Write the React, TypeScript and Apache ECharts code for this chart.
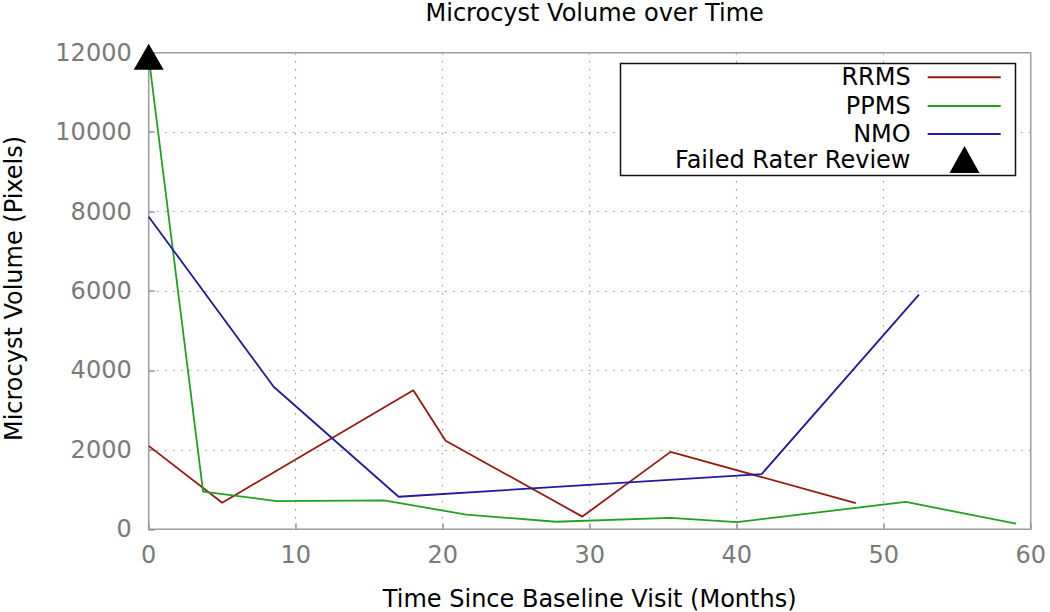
import React, { useEffect, useRef } from "react";
import * as echarts from "echarts";

const titleText = "Microcyst Volume over Time";
const xName = "Time Since Baseline Visit (Months)";
const yName = "Microcyst Volume (Pixels)";

const rrmsX = [0, 5.0, 18.0, 20.2, 29.5, 35.5, 48.1];
const rrmsY = [2100, 670, 3500, 2230, 320, 1950, 660];

const ppmsX = [0, 3.7, 8.7, 16.0, 21.6, 27.7, 35.5, 40.0, 51.5, 59.0];
const ppmsY = [11900, 950, 710, 730, 370, 190, 290, 180, 690, 140];

const nmoX = [0, 8.5, 17.0, 41.7, 52.4];
const nmoY = [7870, 3590, 820, 1390, 5910];

const failedX = [0];
const failedY = [11900];

const seriesNames = ["RRMS", "PPMS", "NMO", "Failed Rater Review"];
const colors = ["#931a12", "#23a023", "#22199c", "#000000"];

const zip = (xs: number[], ys: number[]) => xs.map((x, i) => [x, ys[i]]);

const FONT = "DejaVu Sans";

export default function App() {
  const ref = useRef<HTMLDivElement>(null);
  useEffect(() => {
    document.body.style.margin = "0";
    const chart = echarts.init(ref.current!, null, { renderer: "svg" });
    const gridLeft = 148.7;
    const gridRight = 19.3;
    const gridTop = 52.7;
    const gridBottom = 82.7;
    const legendTops = [65.3, 94, 122, 146];
    const lineIcon = "path://M0,0 L73,0 L73,2 L0,2 Z";
    const triIcon = "path://M15,0 L30,27 L0,27 Z";
    const legends = seriesNames.map((n, i) => {
      const isTri = i === 3;
      return {
        data: [{ name: n, icon: isTri ? triIcon : lineIcon }],
        right: isTri ? 1050 - 979.5 : 1050 - 1000.7,
        top: legendTops[i],
        padding: 0,
        align: "right",
        orient: "vertical",
        itemWidth: isTri ? 30 : 73,
        itemHeight: isTri ? 27 : 24,
        selectedMode: false,
        z: 6,
        textStyle: {
          fontFamily: FONT,
          fontSize: 24,
          color: "#000",
          padding: [0, isTri ? 34 : 12, 0, 0],
        },
      };
    });
    const lineSeries = (name: string, data: number[][], color: string) => ({
      name,
      type: "line",
      data,
      showSymbol: false,
      symbol: "none",
      lineStyle: { color, width: 1.8 },
      itemStyle: { color },
    });
    chart.setOption({
      animation: false,
      backgroundColor: "#fff",
      title: {
        text: titleText,
        left: (gridLeft + 1050 - gridRight) / 2,
        textAlign: "center",
        top: 0,
        textStyle: {
          fontFamily: FONT,
          fontSize: 24,
          lineHeight: 16,
          fontWeight: "normal",
          color: "#000",
        },
      },
      legend: legends,
      graphic: [
        {
          type: "rect",
          shape: { x: 620.5, y: 63.5, width: 395, height: 112 },
          style: { fill: "#fff", stroke: "#111", lineWidth: 1.5 },
          z: 5,
        },
      ],
      grid: {
        left: gridLeft,
        right: gridRight,
        top: gridTop,
        bottom: gridBottom,
        containLabel: false,
        outerBoundsMode: "none",
        show: true,
        borderColor: "#999",
        borderWidth: 1.5,
        backgroundColor: "transparent",
      },
      xAxis: {
        type: "value",
        min: 0,
        max: 60,
        interval: 10,
        name: xName,
        nameLocation: "middle",
        nameGap: 58,
        nameTextStyle: { fontFamily: FONT, fontSize: 24, color: "#000" },
        axisLine: { show: false },
        axisTick: { show: true, inside: true, length: 6, lineStyle: { color: "#999", width: 1.5 } },
        axisLabel: { fontFamily: FONT, fontSize: 24, color: "#7a7a7a", margin: 14 },
        splitLine: { show: true, lineStyle: { color: "#aaa", type: [2, 6], width: 1.2 } },
      },
      yAxis: {
        type: "value",
        min: 0,
        max: 12000,
        interval: 2000,
        name: yName,
        nameLocation: "middle",
        nameGap: 123,
        nameTextStyle: { fontFamily: FONT, fontSize: 24, color: "#000", padding: [0, 0, 0, 5] },
        axisLine: { show: false },
        axisTick: { show: true, inside: true, length: 6, lineStyle: { color: "#999", width: 1.5 } },
        axisLabel: {
          fontFamily: FONT,
          fontSize: 24,
          color: "#7a7a7a",
          margin: 17,
          formatter: (v: number) => String(v),
        },
        splitLine: { show: true, lineStyle: { color: "#aaa", type: [2, 6], width: 1.2 } },
      },
      series: [
        lineSeries(seriesNames[0], zip(rrmsX, rrmsY), colors[0]),
        lineSeries(seriesNames[1], zip(ppmsX, ppmsY), colors[1]),
        lineSeries(seriesNames[2], zip(nmoX, nmoY), colors[2]),
        {
          name: seriesNames[3],
          type: "scatter",
          data: zip(failedX, failedY),
          symbol: "triangle",
          symbolSize: [30, 26],
          itemStyle: { color: colors[3], opacity: 1 },
          z: 5,
        },
      ],
    });
    return () => chart.dispose();
  }, []);
  return <div ref={ref} style={{ width: 1050, height: 612 }} />;
}
